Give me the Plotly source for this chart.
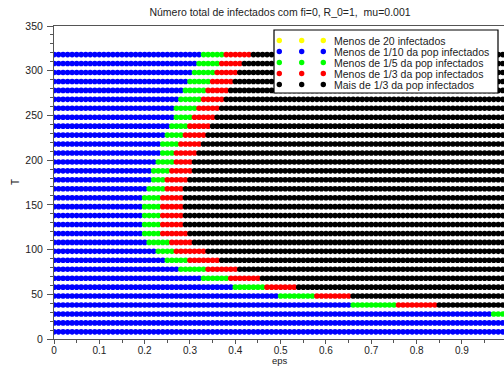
import numpy as np
import plotly.graph_objects as go

# ---- data ----
T_values = [318, 308, 298, 288, 278, 268, 258, 248, 238, 228, 218, 208, 198, 188, 178, 168,
            158, 148, 138, 128, 118, 108, 98, 88, 78, 68, 58, 48, 38, 28, 18, 8]
# first eps value where each class starts along a row (None = never reached)
green_start = [0.33, 0.32, 0.31, 0.30, 0.29, 0.28, 0.27, 0.27, 0.26, 0.25, 0.24, 0.24, 0.23, 0.22, 0.22, 0.21,
               0.20, 0.20, 0.20, 0.20, 0.20, 0.21, 0.23, 0.25, 0.28, 0.33, 0.40, 0.50, 0.66, 0.97, None, None]
red_start = [0.38, 0.37, 0.36, 0.35, 0.34, 0.33, 0.32, 0.31, 0.30, 0.29, 0.28, 0.27, 0.27, 0.26, 0.25, 0.25,
             0.24, 0.24, 0.24, 0.24, 0.24, 0.26, 0.27, 0.30, 0.34, 0.39, 0.47, 0.58, 0.76, None, None, None]
black_start = [0.44, 0.42, 0.41, 0.40, 0.39, 0.38, 0.37, 0.36, 0.35, 0.34, 0.33, 0.32, 0.31, 0.31, 0.30, 0.29,
               0.29, 0.29, 0.29, 0.29, 0.30, 0.31, 0.34, 0.37, 0.41, 0.46, 0.54, 0.66, 0.85, None, None, None]
eps_values = [round(i * 0.01, 2) for i in range(101)]

class_names = ["Menos de 20 infectados",
               "Menos de 1/10 da pop infectados",
               "Menos de 1/5 da pop infectados",
               "Menos de 1/3 da pop infectados",
               "Mais de 1/3 da pop infectados"]
class_colors = ["#FFFF00", "#0000FF", "#00FF00", "#FF0000", "#000000"]

# classify every point
pts = {k: ([], []) for k in range(5)}
for T, g, r, b in zip(T_values, green_start, red_start, black_start):
    for e in eps_values:
        if b is not None and e >= b - 1e-9:
            c = 4
        elif r is not None and e >= r - 1e-9:
            c = 3
        elif g is not None and e >= g - 1e-9:
            c = 2
        else:
            c = 1
        pts[c][0].append(e)
        pts[c][1].append(T)

FONT = "Liberation Sans, Arial, sans-serif"
W, H = 504, 367
ML, MR, MT, MB = 54, 0, 26, 28
PW, PH = W - ML - MR, H - MT - MB

fig = go.Figure()
for c in range(5):
    fig.add_trace(go.Scatter(
        x=pts[c][0], y=pts[c][1], mode="markers", name=class_names[c],
        marker=dict(color=class_colors[c], size=5.6, line=dict(width=0)),
        showlegend=False, hoverinfo="skip"))

def px_x(p):
    return (p - ML) / PW

def px_y(p):
    return (H - MB - p) / PH

shapes = []
annotations = []
# legend box
shapes.append(dict(type="rect", xref="paper", yref="paper",
                   x0=px_x(274), x1=px_x(498), y0=px_y(93), y1=px_y(30),
                   line=dict(color="#000000", width=1.2), fillcolor="white", layer="above"))
rad = 2.7
for i in range(5):
    cy = 40.5 + 11 * i
    for cx in (279.3, 301.7, 323.3):
        shapes.append(dict(type="circle", xref="paper", yref="paper",
                           x0=px_x(cx - rad), x1=px_x(cx + rad),
                           y0=px_y(cy + rad), y1=px_y(cy - rad),
                           fillcolor=class_colors[i], line=dict(width=0), layer="above"))
    annotations.append(dict(text=class_names[i], xref="paper", yref="paper",
                            x=px_x(332), y=px_y(cy), xanchor="left", yanchor="middle",
                            showarrow=False, font=dict(family=FONT, size=10.5, color="#222222")))

# axis titles
annotations.append(dict(text="eps", xref="paper", yref="paper", x=px_x(280), y=px_y(367),
                        xanchor="center", yanchor="bottom", showarrow=False, borderpad=0,
                        font=dict(family=FONT, size=9.5, color="#222222")))
annotations.append(dict(text="T", xref="paper", yref="paper", x=px_x(15), y=px_y(182),
                        xanchor="center", yanchor="middle", showarrow=False, textangle=-90,
                        font=dict(family=FONT, size=10, color="#222222")))

fig.update_layout(
    width=W, height=H, autosize=False,
    margin=dict(l=ML, r=MR, t=MT, b=MB, pad=0),
    paper_bgcolor="white", plot_bgcolor="white",
    title=dict(text="Número total de infectados com fi=0, R_0=1,  mu=0.001",
               x=280 / W, xanchor="center", xref="container",
               y=1 - 12.5 / H, yanchor="middle", yref="container",
               font=dict(family=FONT, size=10.5, color="#222222")),
    shapes=shapes, annotations=annotations,
    xaxis=dict(range=[0, PW / 453.3], showgrid=False, zeroline=False,
               showline=True, linecolor="#555555", linewidth=1, mirror=True,
               ticks="outside", ticklen=4, tickcolor="#555555", ticklabelstandoff=-2,
               tickvals=[0, 0.1, 0.2, 0.3, 0.4, 0.5, 0.6, 0.7, 0.8, 0.9],
               ticktext=["0", "0.1", "0.2", "0.3", "0.4", "0.5", "0.6", "0.7", "0.8", "0.9"],
               minor=dict(dtick=0.05, ticks="outside", ticklen=3, tickcolor="#555555", showgrid=False),
               tickfont=dict(family=FONT, size=10, color="#222222")),
    yaxis=dict(range=[0, 350], showgrid=False, zeroline=False,
               showline=True, linecolor="#555555", linewidth=1, mirror=True,
               ticks="outside", ticklen=6, tickcolor="#555555", ticklabelstandoff=2,
               tickvals=[0, 50, 100, 150, 200, 250, 300, 350],
               minor=dict(dtick=10, ticks="outside", ticklen=3, tickcolor="#555555", showgrid=False),
               tickfont=dict(family=FONT, size=10.5, color="#222222")),
)

fig.write_html("out.html", config={"displayModeBar": False},
               post_script="document.body.style.margin='0';document.body.style.overflow='hidden';")
